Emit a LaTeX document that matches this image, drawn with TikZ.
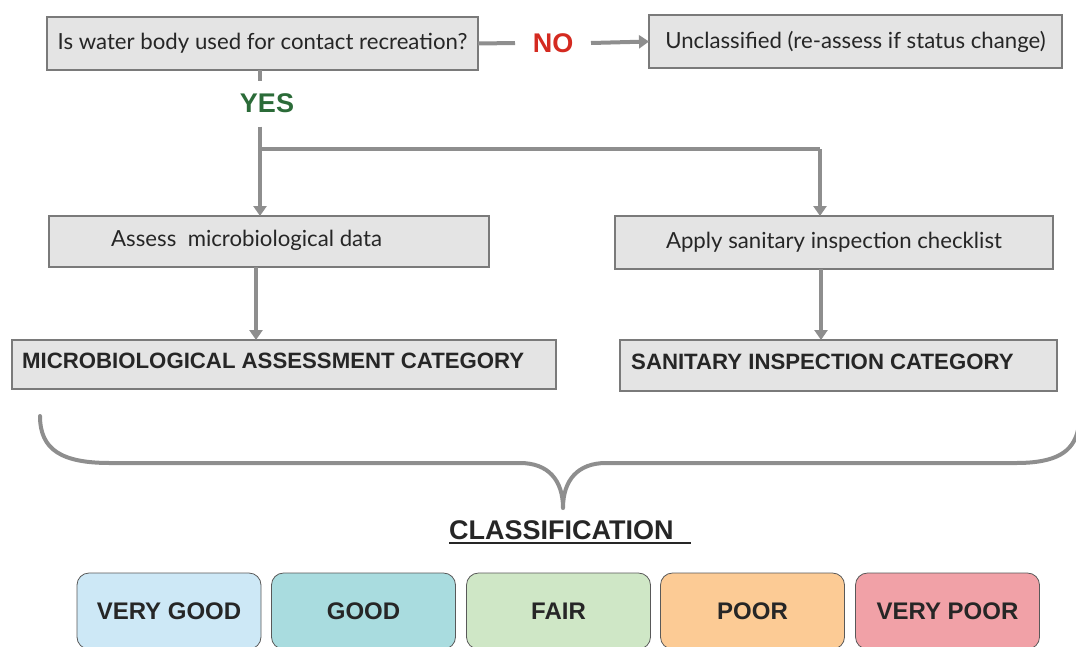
\documentclass[tikz,border=0pt]{standalone}
\usepackage{fontspec}
\setmainfont{Lato}
\newfontfamily\arialfont{Liberation Sans}
\usetikzlibrary{arrows.meta}

\definecolor{boxfill}{HTML}{E4E4E4}
\definecolor{boxline}{HTML}{7A7A7A}
\definecolor{wire}{HTML}{8E8E8E}
\definecolor{nored}{HTML}{D42A20}
\definecolor{yesgreen}{HTML}{2B6B38}
\definecolor{cVG}{HTML}{CDE8F6}
\definecolor{cG}{HTML}{A9DCDF}
\definecolor{cF}{HTML}{CFE7C6}
\definecolor{cP}{HTML}{FCCB95}
\definecolor{cVP}{HTML}{F1A1A7}

\tikzset{
  gbox/.style={draw=boxline, fill=boxfill, line width=1.2pt, inner sep=0pt, outer sep=0pt},
  stepfont/.style={font=\fontsize{22.2}{26}\selectfont, text=black!85},
  catfont/.style={font=\arialfont\bfseries\fontsize{22.2}{26}\selectfont, text=black!85},
  tag/.style={fill=white, inner sep=0pt, outer sep=0pt, minimum width=76, minimum height=46,
    font=\arialfont\bfseries\fontsize{27}{27}\selectfont},
  wireline/.style={draw=wire, line width=4pt},
  flow/.style={wireline, -{Triangle[width=13pt,length=10pt]}},
  grade/.style={draw=black!65, line width=0.8pt, rounded corners=12pt, minimum width=184, minimum height=76, inner sep=0pt,
    font=\arialfont\bfseries\fontsize{24}{26}\selectfont, text=black!85},
}

\begin{document}
\begin{tikzpicture}[x=1pt,y=-1pt]
\useasboundingbox (0,0) rectangle (1076,646);

% question and the "no" branch
\node[gbox, minimum width=431, minimum height=53, stepfont] (q) at (262.5,43.5) {Is water body used for contact recreation?};
\node[tag, text=nored] (no) at (553,43) {NO};
\node[gbox, minimum width=413, minimum height=53, stepfont] (unc) at (855.5,41.5) {Unclassified (re-assess if status change)};
\draw[wireline] (q.east) -- (no.west);
\draw[flow] (no.east) -- (unc.west);

% the "yes" branch splits in two
\coordinate (split) at (260,149);
\coordinate (turn) at (820,149);
\node[tag, text=yesgreen] (yes) at (267,103.5) {YES};
\draw[wireline] (q.south -| split) -- (yes.north -| split);

\node[gbox, minimum width=440, minimum height=51] (assess) at (269,241.5) {};
\node[stepfont, anchor=west, inner sep=0pt] (assesstxt) at (111,240) {Assess\ \ microbiological data};
\node[gbox, minimum width=438, minimum height=53, stepfont] (apply) at (834,242.5) {Apply sanitary inspection checklist};

\draw[wireline] (yes.south -| split) -- (split) -- (turn);
\draw[flow] (split) -- (split |- assess.north);
\draw[flow] (turn) -- (turn |- apply.north);

% resulting categories
\node[gbox, minimum width=544, minimum height=49] (micro) at (284,364.5) {};
\node[catfont, anchor=west, inner sep=0pt] (microtxt) at (22,361) {MICROBIOLOGICAL ASSESSMENT CATEGORY};
\node[gbox, minimum width=437, minimum height=51] (sanit) at (838.5,365.5) {};
\node[catfont, anchor=west, inner sep=0pt] (sanittxt) at (631,362) {SANITARY INSPECTION CATEGORY};

\coordinate (ma) at (256,0);
\coordinate (sa) at (821,0);
\draw[flow] (assess.south -| ma) -- (micro.north -| ma);
\draw[flow] (apply.south -| sa) -- (sanit.north -| sa);

% brace joining both categories
\coordinate (tip) at (563,508);
\draw[draw=wire, line width=4pt, line cap=round]
  (40,416) .. controls (40,450) and (62,463) .. (110,463)
  -- (520,463) .. controls (548,463) and (563,480) .. (tip)
  (tip) .. controls (563,480) and (578,463) .. (606,463)
  -- (1016,463) .. controls (1056,463) and (1073,452) .. (1078,430);

\node[font=\arialfont\bfseries\fontsize{27}{27}\selectfont, text=black!85, inner sep=0pt, anchor=base west] (cls) at (449,539) {CLASSIFICATION};
\draw[black!85, line width=1.5pt] (cls.base west) ++(0,4) coordinate (ul) -- (691,543);

% classification grades
\begin{scope}
\clip (0,0) rectangle (1076,646);
\node[grade, fill=cVG] (vg) at (169,611) {VERY GOOD};
\node[grade, fill=cG]  (g)  at (363.5,611) {GOOD};
\node[grade, fill=cF]  (f)  at (558.5,611) {FAIR};
\node[grade, fill=cP]  (p)  at (752.5,611) {POOR};
\node[grade, fill=cVP] (vp) at (947.5,611) {VERY POOR};
\end{scope}
\end{tikzpicture}
\end{document}
